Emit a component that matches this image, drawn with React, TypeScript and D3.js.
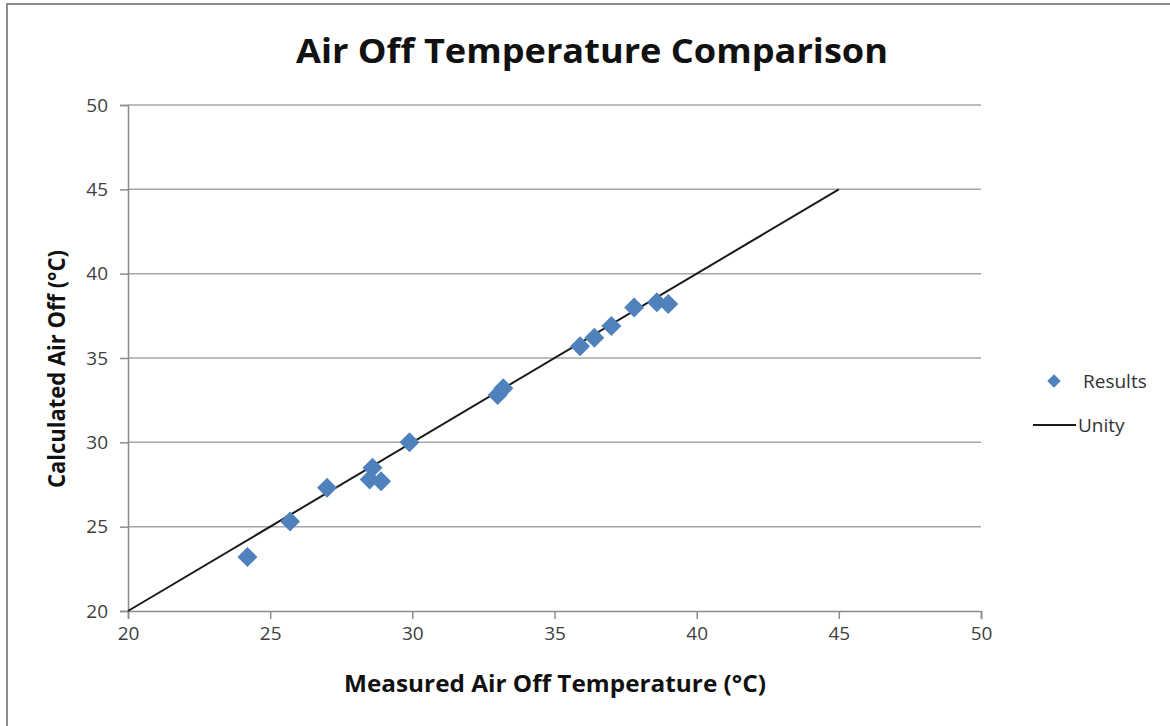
import { useEffect, useRef } from 'react'
import * as d3 from 'd3'

// measured vs calculated air-off temperatures (°C)
const measured = [24.2, 25.7, 27.0, 28.6, 28.5, 28.9, 29.9, 33.0, 33.2, 35.9, 36.4, 37.0, 37.8, 38.6, 39.0]
const calculated = [23.2, 25.3, 27.3, 28.5, 27.8, 27.7, 30.0, 32.8, 33.2, 35.7, 36.2, 36.9, 38.0, 38.3, 38.2]
const unityX = [20, 45]
const ticks = [20, 25, 30, 35, 40, 45, 50]

const W = 1170, H = 726
const FONT = '"Open Sans", Calibri, sans-serif'

export default function App() {
  const ref = useRef<SVGSVGElement>(null)

  useEffect(() => {
    const svg = d3.select(ref.current)
    svg.selectAll('*').remove()

    const x = d3.scaleLinear().domain([20, 50]).range([128, 981])
    const y = d3.scaleLinear().domain([20, 50]).range([611, 105])

    // moldura do gráfico
    svg.append('rect')
      .attr('x', 7).attr('y', 4).attr('width', W).attr('height', H)
      .attr('fill', 'white').attr('stroke', '#8c8c8c').attr('stroke-width', 2)

    // gridlines horizontais
    svg.append('g').selectAll('line').data(ticks.slice(1)).join('line')
      .attr('x1', x(20)).attr('x2', x(50))
      .attr('y1', d => y(d)).attr('y2', d => y(d))
      .attr('stroke', '#a6a6a6').attr('stroke-width', 1.5)

    // eixos
    const styleAxis = (s: any) => {
      s.select('.domain').attr('stroke', '#8c8c8c').attr('stroke-width', 1.5)
      s.selectAll('.tick line').attr('stroke', '#8c8c8c').attr('stroke-width', 1.5)
      s.selectAll('text').attr('fill', '#404040').attr('font-size', 19).attr('font-family', FONT)
    }
    svg.append('g')
      .attr('transform', `translate(0,${y(20)})`)
      .call(d3.axisBottom(x).tickValues(ticks).tickSize(8).tickSizeOuter(8).tickPadding(8))
      .call(styleAxis)
    svg.append('g')
      .attr('transform', `translate(${x(20)},0)`)
      .call(d3.axisLeft(y).tickValues(ticks).tickSize(8).tickSizeOuter(8).tickPadding(12))
      .call(styleAxis)

    // linha unity
    const line = d3.line<number>().x(d => x(d)).y(d => y(d))
    svg.append('path').datum(unityX)
      .attr('d', line).attr('fill', 'none').attr('stroke', '#1a1a1a').attr('stroke-width', 2)

    // pontos (losangos)
    const diamond = d3.symbol().type(d3.symbolSquare).size(200)
    svg.append('g').selectAll('path').data(measured).join('path')
      .attr('d', diamond)
      .attr('transform', (d, i) => `translate(${x(d)},${y(calculated[i])}) rotate(45)`)
      .attr('fill', '#4f81bd')

    // títulos
    svg.append('text')
      .attr('x', 592).attr('y', 63).attr('text-anchor', 'middle')
      .attr('font-family', FONT).attr('font-weight', 700).attr('font-size', 34)
      .attr('textLength', 592).attr('lengthAdjust', 'spacingAndGlyphs')
      .attr('fill', '#111').text('Air Off Temperature Comparison')
    svg.append('text')
      .attr('x', 555).attr('y', 692).attr('text-anchor', 'middle')
      .attr('font-family', FONT).attr('font-weight', 700).attr('font-size', 23)
      .attr('textLength', 422).attr('lengthAdjust', 'spacingAndGlyphs')
      .attr('fill', '#111').text('Measured Air Off Temperature (°C)')
    svg.append('text')
      .attr('transform', 'translate(65,369) rotate(-90)').attr('text-anchor', 'middle')
      .attr('font-family', FONT).attr('font-weight', 700).attr('font-size', 23)
      .attr('textLength', 238).attr('lengthAdjust', 'spacingAndGlyphs')
      .attr('fill', '#111').text('Calculated Air Off (°C)')

    // legenda
    const lg = svg.append('g').attr('font-family', FONT).attr('font-size', 19).attr('fill', '#333')
    lg.append('path')
      .attr('d', d3.symbol().type(d3.symbolSquare).size(90))
      .attr('transform', 'translate(1054,381) rotate(45)').attr('fill', '#4f81bd')
    lg.append('text').attr('x', 1083).attr('y', 388).text('Results')
    lg.append('line').attr('x1', 1033).attr('x2', 1076).attr('y1', 425).attr('y2', 425)
      .attr('stroke', '#1a1a1a').attr('stroke-width', 2)
    lg.append('text').attr('x', 1078).attr('y', 432).text('Unity')
  }, [])

  return (
    <svg ref={ref} width={W} height={H}
      style={{ position: 'absolute', left: 0, top: 0, background: 'white' }} />
  )
}
